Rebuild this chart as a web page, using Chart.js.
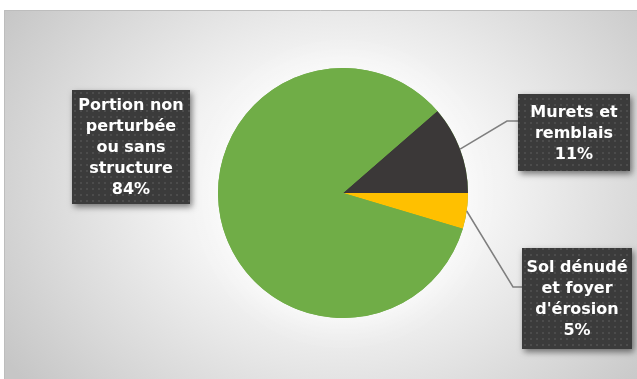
<!DOCTYPE html>
<html>
<head>
<meta charset="utf-8">
<script src="https://cdn.jsdelivr.net/npm/chart.js@4"></script>
<style>
  html, body { margin: 0; padding: 0; background: #fff; }
  #wrap { width: 637px; height: 379px; position: relative; }
</style>
</head>
<body>
<div id="wrap"><canvas id="pieChart" width="637" height="379"></canvas></div>
<script>
// données
const categories = ['Murets et remblais', "Sol dénudé et foyer d'érosion", 'Portion non perturbée ou sans structure'];
const percentages = [11.4, 4.6, 84.0];
const labelLines = [
  ['Murets et', 'remblais'],
  ['Sol dénudé', 'et foyer', "d'érosion"],
  ['Portion non', 'perturbée', 'ou sans', 'structure']
];
const sliceColors = ['#3b3838', '#ffc000', '#70ad47'];

// boîtes d'étiquettes (mise en page)
const labelBoxes = [
  { x: 518, y: 94, w: 112, h: 77, elbow: [507, 121], end: [518, 121] },
  { x: 522, y: 248, w: 110, h: 101, elbow: [513, 287], end: [522, 287] },
  { x: 72, y: 90, w: 118, h: 114, elbow: null, end: null }
];

const total = percentages.reduce((a, b) => a + b, 0);
const FONT = 'bold 16px "DejaVu Sans", sans-serif';

// motif pointillé des étiquettes
function makePattern(ctx) {
  const c = document.createElement('canvas');
  c.width = 6; c.height = 6;
  const p = c.getContext('2d');
  p.fillStyle = '#3b3b3b';
  p.fillRect(0, 0, 6, 6);
  p.fillStyle = '#4c4c4c';
  p.fillRect(2, 2, 2, 2);
  return ctx.createPattern(c, 'repeat');
}

const backgroundPlugin = {
  id: 'background',
  beforeDraw(chart) {
    const ctx = chart.ctx;
    ctx.save();
    ctx.fillStyle = '#ffffff';
    ctx.fillRect(0, 0, chart.width, chart.height);
    // cadre avec dégradé radial
    ctx.save();
    ctx.beginPath();
    ctx.rect(4, 10, chart.width - 4, chart.height - 10);
    ctx.clip();
    ctx.translate(340, 185);
    ctx.scale(1, 0.8);
    const g = ctx.createRadialGradient(0, 0, 0, 0, 0, 400);
    g.addColorStop(0, '#fcfcfc');
    g.addColorStop(0.4, '#f3f3f3');
    g.addColorStop(0.75, '#d9d9d9');
    g.addColorStop(1, '#c6c6c6');
    ctx.fillStyle = g;
    ctx.fillRect(-400, -400, 800, 800);
    ctx.restore();
    ctx.strokeStyle = '#bdbdbd';
    ctx.lineWidth = 1;
    ctx.beginPath();
    ctx.moveTo(4.5, chart.height);
    ctx.lineTo(4.5, 10.5);
    ctx.lineTo(chart.width, 10.5);
    ctx.stroke();
    ctx.restore();
  },
  beforeDatasetsDraw(chart) {
    // halo blanc autour du camembert
    const arc = chart.getDatasetMeta(0).data[0];
    if (!arc) return;
    const ctx = chart.ctx;
    ctx.save();
    ctx.shadowColor = 'rgba(255,255,255,0.9)';
    ctx.shadowBlur = 40;
    ctx.fillStyle = '#70ad47';
    ctx.beginPath();
    ctx.arc(arc.x, arc.y, arc.outerRadius, 0, Math.PI * 2);
    ctx.fill();
    ctx.restore();
  }
};

const labelPlugin = {
  id: 'calloutLabels',
  afterDatasetsDraw(chart) {
    const ctx = chart.ctx;
    const meta = chart.getDatasetMeta(0);
    const pattern = makePattern(ctx);
    meta.data.forEach((arc, i) => {
      const box = labelBoxes[i];
      // lignes de repère
      if (box.elbow) {
        const mid = (arc.startAngle + arc.endAngle) / 2;
        const sx = arc.x + Math.cos(mid) * arc.outerRadius;
        const sy = arc.y + Math.sin(mid) * arc.outerRadius;
        ctx.save();
        ctx.strokeStyle = '#7f7f7f';
        ctx.lineWidth = 1.5;
        ctx.beginPath();
        ctx.moveTo(sx, sy);
        ctx.lineTo(box.elbow[0], box.elbow[1]);
        ctx.lineTo(box.end[0], box.end[1]);
        ctx.stroke();
        ctx.restore();
      }
      // boîte
      ctx.save();
      ctx.shadowColor = 'rgba(0,0,0,0.5)';
      ctx.shadowBlur = 6;
      ctx.shadowOffsetX = 2;
      ctx.shadowOffsetY = 3;
      ctx.fillStyle = pattern;
      ctx.fillRect(box.x, box.y, box.w, box.h);
      ctx.restore();
      // texte
      const lines = labelLines[i].concat([Math.round(percentages[i] / total * 100) + '%']);
      const lh = 21;
      const cx = box.x + box.w / 2;
      const top = box.y + box.h / 2 - (lines.length - 1) * lh / 2 + 1;
      ctx.save();
      ctx.font = FONT;
      ctx.fillStyle = '#ffffff';
      ctx.textAlign = 'center';
      ctx.textBaseline = 'middle';
      lines.forEach((t, k) => ctx.fillText(t, cx, top + k * lh));
      ctx.restore();
    });
  }
};

new Chart(document.getElementById('pieChart').getContext('2d'), {
  type: 'pie',
  data: {
    labels: categories,
    datasets: [{
      data: percentages,
      backgroundColor: sliceColors,
      borderWidth: 0
    }]
  },
  options: {
    responsive: false,
    animation: false,
    rotation: 90 - percentages[0] / total * 360,
    layout: { padding: { left: 218, right: 169, top: 68, bottom: 61 } },
    plugins: {
      legend: { display: false },
      tooltip: { enabled: false }
    }
  },
  plugins: [backgroundPlugin, labelPlugin]
});
</script>
</body>
</html>
